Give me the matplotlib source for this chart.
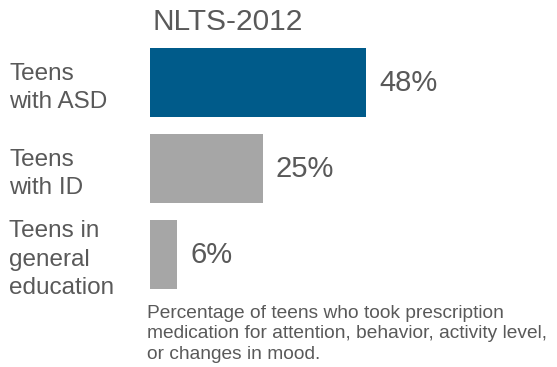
import matplotlib
matplotlib.use("Agg")
import matplotlib.pyplot as plt

plt.rcParams['font.family'] = ['Liberation Sans', 'DejaVu Sans']

categories = ["Teens\nwith ASD", "Teens\nwith ID", "Teens in\ngeneral\neducation"]
values = [48, 25, 6]
value_labels = ["48%", "25%", "6%"]
bar_colors = ["#005B8A", "#A6A6A6", "#A6A6A6"]
title = "NLTS-2012"
note = ("Percentage of teens who took prescription\n"
        "medication for attention, behavior, activity level,\n"
        "or changes in mood.")

TEXT = "#595959"
W, H = 557, 367
fig = plt.figure(figsize=(W / 100, H / 100), dpi=100)

# axes in pixel terms: x from 150 to 557, y from 39.5 to 297.5 (top-down)
left, right, top, bottom = 150, 557, 39.5, 297.5
ax = fig.add_axes([left / W, 1 - bottom / H, (right - left) / W, (bottom - top) / H])
px_per_pct = 4.5
ax.set_xlim(0, (right - left) / px_per_pct)
ax.set_ylim(len(values) - 0.5, -0.5)
ax.axis("off")

ypos = list(range(len(values)))
ax.barh(ypos, values, height=69 / 86, color=bar_colors, left=0)

for y, v, lab in zip(ypos, values, value_labels):
    ax.annotate(lab, xy=(v, y), xytext=(9.5, 0), textcoords="offset points",
                ha="left", va="center", fontsize=21, color=TEXT)

for y, cat in zip(ypos, categories):
    ax.annotate(cat, xy=(9, y), xycoords=("figure pixels", "data"),
                xytext=(0, -3.8), textcoords="offset points",
                ha="left", va="center", fontsize=17.5, color=TEXT,
                linespacing=1.37)

fig.text(228 / W, 1 - 22.5 / H, title, ha="center", va="center",
         fontsize=21.5, color=TEXT)
fig.text(147 / W, 1 - 334 / H, note, ha="left", va="center",
         fontsize=13.75, color=TEXT, linespacing=1.28)

fig.savefig("out.png", dpi=100, facecolor="white")
